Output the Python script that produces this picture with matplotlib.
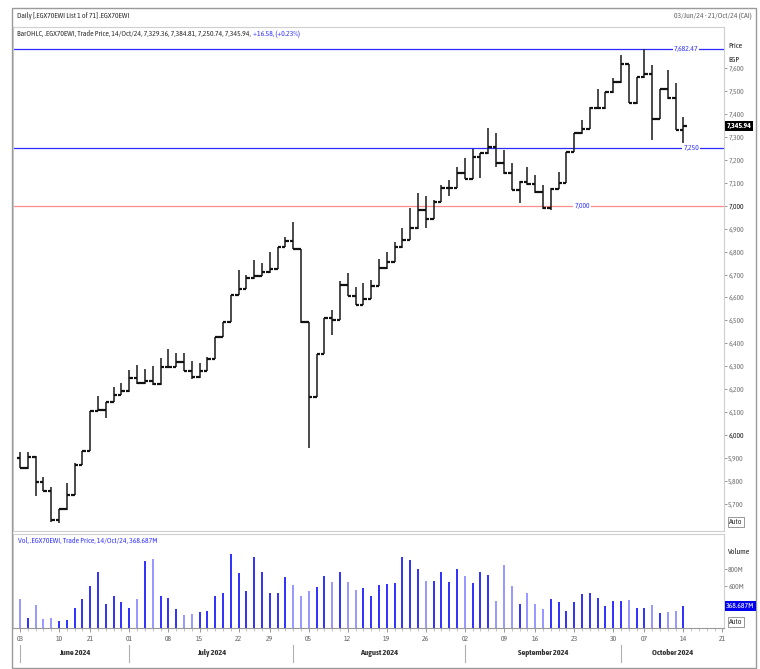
import matplotlib
matplotlib.use("Agg")
import matplotlib.pyplot as plt
from matplotlib import font_manager as fm
from matplotlib.lines import Line2D
from matplotlib.patches import Rectangle

W, H = 760, 669

# ---- daily OHLC bars (.EGX70EWI, 03/Jun/24 - 14/Oct/24) ----
opens = [5900, 5859, 5907, 5798, 5759, 5629, 5679, 5740, 5871, 5932,
         6107, 6110, 6146, 6176, 6193, 6248, 6226, 6238, 6223, 6296,
         6299, 6318, 6280, 6253, 6281, 6332, 6430, 6495, 6611, 6637,
         6684, 6695, 6710, 6724, 6821, 6846, 6811, 6492, 6168, 6354,
         6512, 6502, 6655, 6607, 6568, 6594, 6652, 6727, 6756, 6819,
         6851, 6902, 6981, 6942, 7017, 7076, 7078, 7141, 7116, 7211,
         7228, 7254, 7185, 7141, 7068, 7105, 7094, 7058, 6989, 7073,
         7100, 7235, 7315, 7334, 7424, 7424, 7494, 7537, 7617, 7446,
         7559, 7574, 7378, 7508, 7468, 7329.36]
highs = [5929, 5929, 5910, 5820, 5776, 5679, 5791, 5881, 5932, 6107,
         6171, 6146, 6212, 6226, 6284, 6306, 6289, 6302, 6335, 6376,
         6360, 6360, 6324, 6314, 6342, 6430, 6495, 6611, 6720, 6698,
         6763, 6749, 6797, 6821, 6865, 6928, 6813, 6494, 6354, 6512,
         6546, 6672, 6706, 6647, 6662, 6676, 6767, 6797, 6841, 6902,
         6991, 7057, 7042, 7023, 7090, 7112, 7170, 7206, 7247, 7230,
         7340, 7316, 7243, 7185, 7107, 7170, 7134, 7090, 7075, 7145,
         7235, 7315, 7373, 7431, 7508, 7494, 7555, 7656, 7619, 7561,
         7682.47, 7612, 7508, 7591, 7533, 7384.81]
lows = [5856, 5855, 5737, 5757, 5624, 5619, 5675, 5738, 5869, 5930,
        6105, 6074, 6144, 6174, 6190, 6224, 6224, 6221, 6221, 6294,
        6297, 6278, 6244, 6251, 6279, 6330, 6428, 6493, 6609, 6635,
        6682, 6693, 6708, 6722, 6819, 6809, 6490, 5943, 6166, 6352,
        6437, 6500, 6605, 6566, 6566, 6592, 6650, 6725, 6754, 6817,
        6849, 6900, 6902, 6940, 7015, 7042, 7076, 7114, 7114, 7119,
        7226, 7170, 7139, 7066, 7010, 7092, 7056, 6987, 6981, 7071,
        7098, 7233, 7313, 7332, 7422, 7422, 7492, 7535, 7446, 7444,
        7557, 7286, 7376, 7466, 7328, 7250.74]
closes = [5859, 5907, 5798, 5759, 5629, 5679, 5740, 5871, 5932, 6107,
          6110, 6146, 6176, 6193, 6248, 6226, 6238, 6223, 6296, 6299,
          6318, 6280, 6253, 6281, 6332, 6430, 6495, 6611, 6637, 6684,
          6695, 6710, 6724, 6821, 6846, 6811, 6492, 6168, 6354, 6512,
          6502, 6655, 6607, 6568, 6594, 6652, 6727, 6756, 6819, 6851,
          6902, 6981, 6942, 7017, 7076, 7078, 7141, 7116, 7211, 7228,
          7254, 7185, 7141, 7068, 7105, 7094, 7058, 6989, 7073, 7100,
          7235, 7315, 7334, 7424, 7424, 7494, 7537, 7617, 7446, 7559,
          7574, 7378, 7508, 7468, 7329.36, 7345.94]
# volume in millions
volumes = [448, 229, 388, 221, 229, 198, 209, 343, 448, 608,
           771, 392, 483, 418, 354, 448, 893, 919, 494, 463,
           335, 266, 281, 300, 315, 483, 528, 980, 753, 551,
           938, 771, 528, 520, 710, 619, 483, 551, 597, 722,
           657, 771, 657, 562, 577, 483, 616, 634, 642, 938,
           912, 798, 665, 665, 764, 657, 798, 722, 642, 771,
           737, 426, 851, 608, 395, 520, 395, 335, 448, 418,
           312, 418, 509, 528, 460, 377, 429, 429, 437, 346,
           354, 380, 292, 304, 312, 368.687]

tick_pos = [0, 5, 9, 14, 19, 23, 28, 32, 37, 42, 47, 52, 57, 62, 66, 71, 76, 80, 85, 90]
tick_labels = ["03", "10", "21", "01", "08", "15", "22", "29", "05", "12",
               "19", "26", "02", "09", "16", "23", "30", "07", "14", "21"]
month_starts = [0, 14, 35, 57, 77]
month_names = ["June 2024", "July 2024", "August 2024", "September 2024", "October 2024"]

hlines = [7682.47, 7250, 7000]
hline_labels = ["7,682.47", "7,250", "7,000"]
hline_colors = ["#2b2bff", "#2b2bff", "#ff8c8c"]
hline_label_x = [85.3, 86.0, 72.0]

price_ticks = [5700, 5800, 5900, 6000, 6100, 6200, 6300, 6400, 6500, 6600,
               6700, 6800, 6900, 7000, 7100, 7200, 7300, 7400, 7500, 7600]
vol_ticks = [600, 800]

XMIN, XMAX = -0.9, 90.2

# ---- pick a narrow font if one is installed ----
fam, stretch = "DejaVu Sans", "normal"
prefer = []
for f in fm.fontManager.ttflist:
    st = str(f.stretch)
    narrow = ("Narrow" in f.name or "Condensed" in f.name or
              st in ("condensed", "semi-condensed", "extra-condensed", "ultra-condensed") or
              (st.isdigit() and int(st) < 500))
    if narrow and f.style == "normal":
        rank = 0 if "Liberation Sans Narrow" in f.name else (1 if "Condensed" in f.name else 2)
        prefer.append((rank, f.name, st))
if prefer:
    prefer.sort()
    fam, stretch = prefer[0][1], prefer[0][2]
plt.rcParams["font.family"] = [fam, "DejaVu Sans"]
plt.rcParams["font.stretch"] = stretch


def fx(px):
    return px / W


def fy(py):
    return 1 - py / H


fig = plt.figure(figsize=(W / 100, H / 100), dpi=100)
fig.patch.set_facecolor("white")

# calibrate font size so the header has the reference width (~109 px)
probe = fig.text(0, 0, "Daily [.EGX70EWI List 1 of 71] .EGX70EWI", fontsize=10)
fig.canvas.draw()
wpx = probe.get_window_extent().width
probe.remove()
FS = max(4.6, min(6.8, 10 * 112 / wpx))
SMALL = FS

# ---------- price panel ----------
ax = fig.add_axes([fx(13), fy(531), fx(724) - fx(13), fy(27) - fy(531)])
n = len(closes)
xs = list(range(n))
ax.vlines(xs, lows, highs, color="#222222", lw=1.15)
ax.hlines(opens, [x - 0.45 for x in xs], xs, color="#111111", lw=1.6)
ax.hlines(closes, xs, [x + 0.45 for x in xs], color="#111111", lw=1.6)

for lvl, lab, col, lx in zip(hlines, hline_labels, hline_colors, hline_label_x):
    ax.axhline(lvl, color=col, lw=0.9, zorder=1)
    ax.text(lx, lvl, lab, color="#3b3bff", fontsize=SMALL, ha="center", va="center",
            bbox=dict(facecolor="white", edgecolor="none", pad=0.6), zorder=3)

ax.set_xlim(XMIN, XMAX)
ax.set_ylim(5583, 7778)
ax.yaxis.tick_right()
ax.set_yticks(price_ticks)
ax.set_yticklabels([f"{t:,}" for t in price_ticks])
ax.tick_params(axis="y", length=2, width=0.6, colors="#888888", labelsize=SMALL, pad=1)
for lbl, t in zip(ax.get_yticklabels(), price_ticks):
    lbl.set_color("#222222" if t in (6000, 7000) else "#777777")
ax.set_xticks([])
for side in ["left", "right", "top", "bottom"]:
    ax.spines[side].set_color("#cfcfcf")
    ax.spines[side].set_linewidth(0.8)

# ---------- volume panel ----------
axv = fig.add_axes([fx(13), fy(628), fx(724) - fx(13), fy(534) - fy(628)])
vcols = ["#1f1fff" if c >= o else "#8f8fff" for o, c in zip(opens, closes)]
axv.vlines(xs, 0, volumes, colors=vcols, lw=1.3)
axv.set_xlim(XMIN, XMAX)
axv.set_ylim(115, 1212)
axv.yaxis.tick_right()
axv.set_yticks(vol_ticks)
axv.set_yticklabels([f"{t}M" for t in vol_ticks])
axv.tick_params(axis="y", length=2, width=0.6, colors="#888888", labelsize=SMALL, pad=1)
for lbl in axv.get_yticklabels():
    lbl.set_color("#777777")
axv.set_xticks(tick_pos)
axv.set_xticklabels(tick_labels)
axv.set_xticks(list(range(0, 91)), minor=True)
axv.tick_params(axis="x", which="major", length=3, width=0.6, colors="#888888",
                labelsize=SMALL, pad=2)
axv.tick_params(axis="x", which="minor", length=2, width=0.5, colors="#aaaaaa")
for lbl in axv.get_xticklabels():
    lbl.set_color("#666666")
for side in ["left", "right", "top", "bottom"]:
    axv.spines[side].set_color("#cfcfcf")
    axv.spines[side].set_linewidth(0.8)
axv.spines["bottom"].set_color("#999999")

# month labels and separators
bounds = month_starts + [XMAX]
for i, name in enumerate(month_names):
    xa = month_starts[i]
    xb = bounds[i + 1]
    axv.text((xa + xb) / 2, -0.27, name, transform=axv.get_xaxis_transform(),
             ha="center", va="center", fontsize=FS + 0.4, color="#333333", fontweight="bold")
    axv.add_line(Line2D([xa, xa], [-0.18, -0.36], transform=axv.get_xaxis_transform(),
                        color="#b0b0b0", lw=0.8, clip_on=False))

# ---------- frame ----------
fig.add_artist(Rectangle((fx(12), fy(668)), fx(756) - fx(12), fy(8) - fy(668),
                         transform=fig.transFigure, fill=False, edgecolor="#9a9a9a", lw=1.0))

# ---------- header texts ----------
fig.text(fx(17), fy(16), "Daily [.EGX70EWI List 1 of 71] .EGX70EWI", fontsize=FS,
         color="#333333", va="center")
fig.text(fx(752), fy(16), "03/Jun/24 - 21/Oct/24 (CAI)", fontsize=FS,
         color="#666666", va="center", ha="right")
t1 = fig.text(fx(17), fy(34), "BarOHLC, .EGX70EWI, Trade Price, 14/Oct/24, 7,329.36, 7,384.81, "
              "7,250.74, 7,345.94, ", fontsize=FS, color="#333333", va="center")
fig.canvas.draw()
bb = t1.get_window_extent()
fig.text(bb.x1 / W + 0.001, fy(34), "+16.58, (+0.23%)", fontsize=FS, color="#3b3bff", va="center")

fig.text(fx(728), fy(46), "Price", fontsize=FS, color="#222222", va="center")
fig.text(fx(728), fy(60), "EGP", fontsize=FS, color="#222222", va="center")
fig.text(fx(726.5), fy(126), "7,345.94", fontsize=FS, color="white", va="center",
         fontweight="bold", bbox=dict(facecolor="black", edgecolor="none", pad=1.0))
fig.text(fx(729), fy(522), "Auto", fontsize=FS, color="#333333", va="center",
         bbox=dict(facecolor="white", edgecolor="#888888", lw=0.6, pad=0.8))

fig.text(fx(18), fy(541), "Vol, .EGX70EWI, Trade Price, 14/Oct/24, 368.687M", fontsize=FS,
         color="#3b3bff", va="center")
fig.text(fx(728), fy(552), "Volume", fontsize=FS, color="#222222", va="center")
fig.text(fx(726), fy(606), "368.687M", fontsize=FS, color="white", va="center",
         bbox=dict(facecolor="#0000ee", edgecolor="none", pad=0.9))
fig.text(fx(729), fy(622), "Auto", fontsize=FS, color="#333333", va="center",
         bbox=dict(facecolor="white", edgecolor="#888888", lw=0.6, pad=0.8))

fig.savefig("out.png", dpi=100)
